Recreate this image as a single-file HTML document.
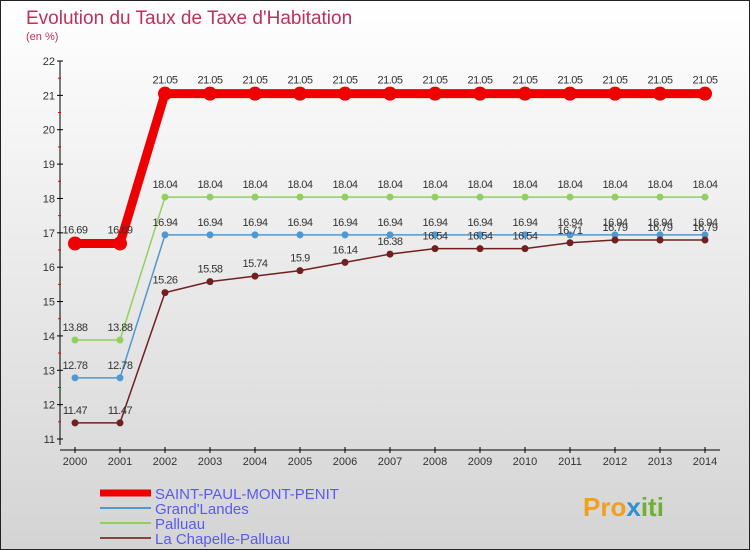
<!DOCTYPE html>
<html><head><meta charset="utf-8"><style>
body{margin:0;}
#c{width:750px;height:550px;position:relative;overflow:hidden;}
svg text{font-family:"Liberation Sans",sans-serif;}
</style></head><body>
<div id="c">
<svg id="s" width="750" height="550" xmlns="http://www.w3.org/2000/svg">
<defs><linearGradient id="bg" x1="0" y1="0" x2="0" y2="1"><stop offset="0" stop-color="#ffffff"/><stop offset="1" stop-color="#d4d4d4"/></linearGradient></defs>
<rect x="0.5" y="0.5" width="749" height="549" fill="url(#bg)" stroke="#222"/>
<text x="26" y="24" font-size="19" fill="#c0305a">Evolution du Taux de Taxe d'Habitation</text>
<text x="26" y="40" font-size="11" fill="#c0305a">(en %)</text>
<g id="axes"></g><g id="series"></g><g id="legend"></g>
<text x="583" y="516" font-size="26" font-weight="bold" fill="#f0a020">Pro<tspan fill="#3090d0">x</tspan><tspan fill="#70b030">iti</tspan></text>
</svg></div>
<script>
const years=[2000,2001,2002,2003,2004,2005,2006,2007,2008,2009,2010,2011,2012,2013,2014];
const yTicks=[11,12,13,14,15,16,17,18,19,20,21,22];
const seriesNames=["SAINT-PAUL-MONT-PENIT","Grand'Landes","Palluau","La Chapelle-Palluau"];
const saintPaul=[16.69,16.69,21.05,21.05,21.05,21.05,21.05,21.05,21.05,21.05,21.05,21.05,21.05,21.05,21.05];
const grandLandes=[12.78,12.78,16.94,16.94,16.94,16.94,16.94,16.94,16.94,16.94,16.94,16.94,16.94,16.94,16.94];
const palluau=[13.88,13.88,18.04,18.04,18.04,18.04,18.04,18.04,18.04,18.04,18.04,18.04,18.04,18.04,18.04];
const chapelle=[11.47,11.47,15.26,15.58,15.74,15.9,16.14,16.38,16.54,16.54,16.54,16.71,16.79,16.79,16.79];
const NS="http://www.w3.org/2000/svg";
const X=i=>75+i*45, Y=v=>439-(v-11)*(378/11);
function mk(t,a,p){const e=document.createElementNS(NS,t);for(const k in a)e.setAttribute(k,a[k]);p.appendChild(e);return e;}
const ax=document.getElementById('axes');
let l=mk('line',{x1:60,y1:Y(22),x2:60,y2:Y(11)+6,stroke:'#000'},ax);


l=mk('line',{x1:60,y1:450,x2:720,y2:450,stroke:'#000'},ax);


yTicks.forEach((v,i)=>{
 mk('line',{x1:57,y1:Y(v),x2:63,y2:Y(v),stroke:'#000'},ax);
 if(i<yTicks.length-1) mk('line',{x1:58,y1:Y(v+0.5),x2:61,y2:Y(v+0.5),stroke:'#e00'},ax);
 const t=mk('text',{x:55,y:Y(v)+4,'font-size':11,fill:'#333','text-anchor':'end'},ax);t.textContent=v;
 
 
});
years.forEach((y,i)=>{
 mk('line',{x1:X(i),y1:447,x2:X(i),y2:453,stroke:'#000'},ax);
 const t=mk('text',{x:X(i),y:465,'font-size':11,fill:'#333','text-anchor':'middle'},ax);t.textContent=y;
 
 
});
const sg=document.getElementById('series');
const cfg=[[saintPaul,'#ee0000',9,7],[palluau,'#90d060',1.5,3.5],[grandLandes,'#5098d0',1.5,3.5],[chapelle,'#702020',1.5,3.5]];
const nm=['series-saint-paul','series-palluau','series-grand-landes','series-la-chapelle-palluau'];
cfg.forEach((c,k)=>{
 const g=mk('g',{},sg);
 
 
 const d=c[0];
 const p=mk('polyline',{points:d.map((v,i)=>X(i)+','+Y(v)).join(' '),fill:'none',stroke:c[1],'stroke-width':c[2]},g);
 
 
 d.forEach((v,i)=>{
  const pt=mk('circle',{cx:X(i),cy:Y(v),r:c[3],fill:c[1]},g);
  
  
  const t=mk('text',{x:X(i),y:Y(v)-(k==0?10:9),'font-size':11,fill:'#333','text-anchor':'middle','letter-spacing':'-0.5'},g);t.textContent=v;
  
  
 });
});
const lg=document.getElementById('legend');
const lc=[['#ee0000',7],['#5098d0',2],['#90d060',2],['#884444',2]];
seriesNames.forEach((n,i)=>{
 const y=493+i*15;
 const g=mk('g',{},lg);
 
 
 mk('line',{x1:100,y1:y,x2:151,y2:y,stroke:lc[i][0],'stroke-width':lc[i][1]},g);
 const t=mk('text',{x:155,y:y+6,'font-size':15,fill:'#5a5aee'},g);t.textContent=n;
});
</script>
</body></html>
